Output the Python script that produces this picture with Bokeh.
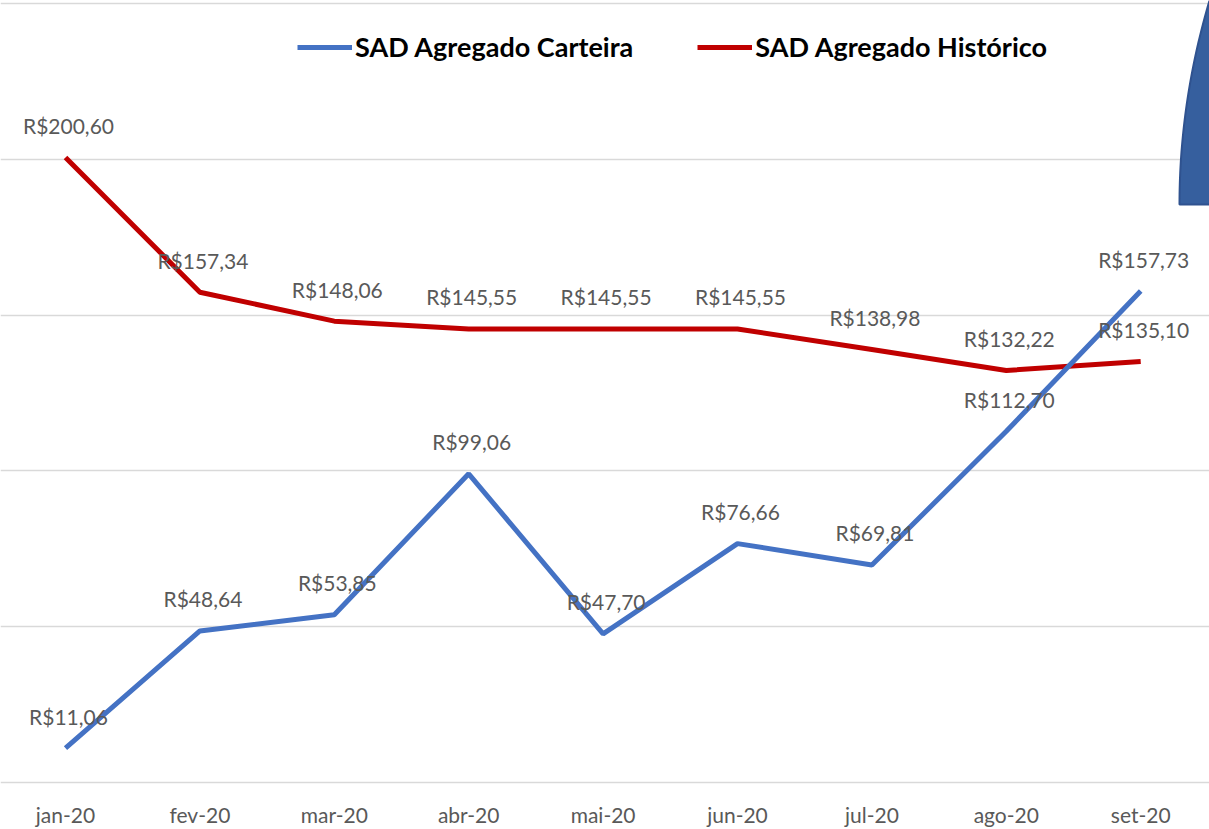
import numpy as np
from bokeh.plotting import figure
from bokeh.models import (ColumnDataSource, LabelSet, Legend, LegendItem,
                          FixedTicker, Range1d)
from bokeh.core.properties import value
from bokeh.embed import file_html
from bokeh.resources import INLINE

# ---- data ----
months = ["jan-20", "fev-20", "mar-20", "abr-20", "mai-20",
          "jun-20", "jul-20", "ago-20", "set-20"]
carteira = [11.06, 48.64, 53.85, 99.06, 47.70, 76.66, 69.81, 112.70, 157.73]
historico = [200.60, 157.34, 148.06, 145.55, 145.55, 145.55, 138.98, 132.22, 135.10]
y_ticks = [0, 50, 100, 150, 200, 250]
series_names = ["SAD Agregado Carteira", "SAD Agregado Histórico"]

BLUE = "#4472C4"
RED = "#C00000"
GRAY = "#595959"
FONT = "Lato"

W, H = 1209, 829
AXIS_H = 32
FRAME_H = H - AXIS_H
PX_PER_X = 134.4
PX_PER_Y = 3.116
X0_PX = 65
Y0_PX = 782

xs = list(range(len(months)))
x_start = -X0_PX / PX_PER_X
x_end = x_start + W / PX_PER_X
y_end = y_ticks[-1] + 3 / PX_PER_Y
y_start = -(FRAME_H - Y0_PX) / PX_PER_Y


def fmt(v):
    return "R$" + f"{v:.2f}".replace(".", ",")


src_c = ColumnDataSource(dict(x=xs, y=carteira, t=[fmt(v) for v in carteira]))
src_h = ColumnDataSource(dict(x=xs, y=historico, t=[fmt(v) for v in historico]))

p = figure(width=W, height=H, output_backend="svg", toolbar_location=None,
           x_range=Range1d(x_start, x_end), y_range=Range1d(y_start, y_end),
           min_border=0, min_border_left=0, min_border_right=0,
           min_border_top=0, min_border_bottom=0)
p.outline_line_color = None
p.background_fill_color = "white"
p.border_fill_color = "white"

# axes
p.yaxis.visible = False
p.yaxis.ticker = FixedTicker(ticks=y_ticks)
p.ygrid.ticker = FixedTicker(ticks=y_ticks)
p.ygrid.grid_line_color = "#D9D9D9"
p.ygrid.grid_line_width = 1.5
p.xgrid.visible = False

p.xaxis.ticker = FixedTicker(ticks=xs)
p.xaxis.major_label_overrides = {i: m for i, m in enumerate(months)}
p.xaxis.axis_line_color = None
p.xaxis.major_tick_line_color = None
p.xaxis.minor_tick_line_color = None
p.xaxis.major_tick_out = 0
p.xaxis.major_tick_in = 0
p.xaxis.major_label_standoff = 4
p.xaxis.major_label_text_font = FONT
p.xaxis.major_label_text_font_size = "21px"
p.xaxis.major_label_text_color = GRAY

# decorative shape at top right (clipped by the frame)
py = np.linspace(0, 204, 40)
px = 1179 + 30 * ((204 - py) / 204) ** 2
right = x_end + 1
bottom_y = (Y0_PX - 204) / PX_PER_Y
top_y = y_end + 10
shape_x = [x_start + 1209 / PX_PER_X] + list(x_start + px / PX_PER_X) + [right, right]
shape_y = [top_y] + list((Y0_PX - py) / PX_PER_Y) + [bottom_y, top_y]
p.patch(shape_x, shape_y, fill_color="#365F9E", line_color="#2F528F", line_width=2)

# lines
r_h = p.line("x", "y", source=src_h, line_color=RED, line_width=5)
r_c = p.line("x", "y", source=src_c, line_color=BLUE, line_width=5)

# data labels
for src in (src_h, src_c):
    p.add_layout(LabelSet(x="x", y="y", text="t", source=src,
                          x_offset=3, y_offset=32,
                          text_align="center", text_baseline="middle",
                          text_font=value(FONT), text_font_size=value("21px"),
                          text_color=GRAY))

legend = Legend(items=[LegendItem(label=series_names[0], renderers=[r_c]),
                       LegendItem(label=series_names[1], renderers=[r_h])],
                orientation="horizontal",
                location=(297, FRAME_H - 63),
                border_line_color=None, background_fill_alpha=0,
                padding=0, margin=0, spacing=64,
                glyph_width=55, glyph_height=30, label_height=30,
                label_standoff=3,
                label_text_font=FONT, label_text_font_size="27px",
                label_text_font_style="bold", label_text_color="black")
p.add_layout(legend, "center")

open("out.html", "w").write(file_html(p, INLINE))
